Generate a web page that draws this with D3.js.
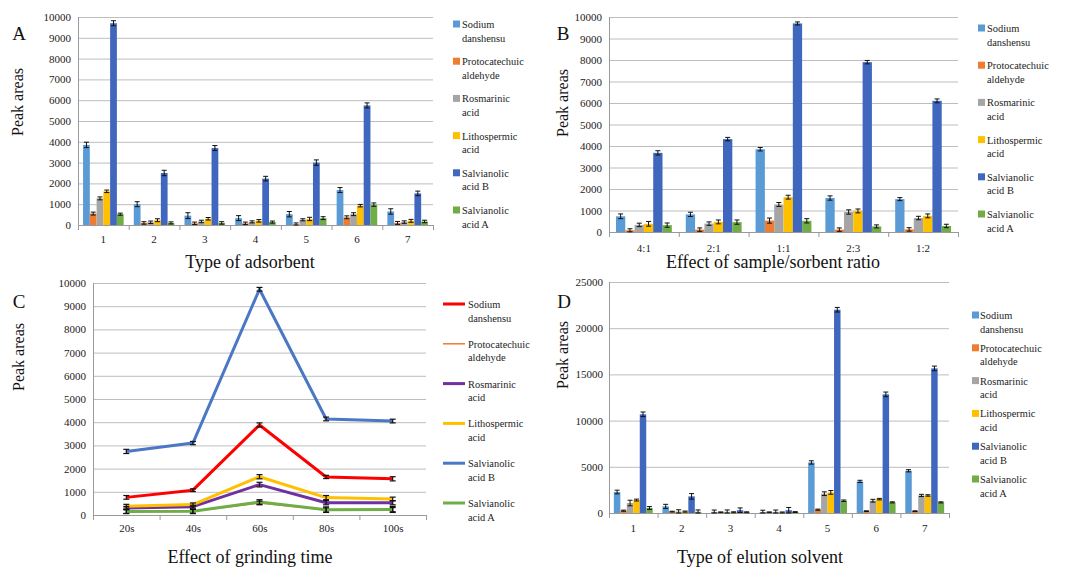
<!DOCTYPE html>
<html><head><meta charset="utf-8">
<script src="https://cdn.jsdelivr.net/npm/d3@7"></script>
<style>body{margin:0;background:#fff}svg{display:block}svg text{font-family:"Liberation Serif","Times New Roman",serif !important}</style>
</head><body>
<svg id="c" width="1067" height="567"></svg>
<script>
// ---------- shared ----------
const legendLines = [["Sodium","danshensu"],["Protocatechuic","aldehyde"],["Rosmarinic","acid"],["Lithospermic","acid"],["Salvianolic","acid B"],["Salvianolic","acid A"]];
const barColors = ["#5B9BD5","#ED7D31","#A5A5A5","#FFC000","#3F67BE","#70AD47"];
const lineColors = ["#FF0000","#ED7D31","#7030A0","#FFC000","#4A78C4","#70AD47"];

// ---------- A: type of adsorbent ----------
const adsCats = ["1","2","3","4","5","6","7"];
const adsSodium = [3850,1000,450,330,520,1680,650];
const adsProto  = [550,100,80,80,30,370,100];
const adsRosm   = [1280,130,170,150,250,520,140];
const adsLitho  = [1620,230,300,200,290,930,200];
const adsSalB   = [9700,2500,3700,2230,3000,5750,1520];
const adsSalA   = [520,100,100,140,330,980,170];
const adsErr = [[130,120,140,120,130,120,130],[70,60,60,60,70,70,70],[70,60,60,50,50,70,60],[60,70,60,60,80,60,70],[120,130,120,110,130,120,110],[50,50,60,50,70,80,60]];

// ---------- B: sample/sorbent ratio ----------
const ratCats = ["4:1","2:1","1:1","2:3","1:2"];
const ratSodium = [730,820,3850,1580,1530];
const ratProto  = [80,110,530,110,120];
const ratRosm   = [330,390,1280,930,650];
const ratLitho  = [380,470,1620,980,750];
const ratSalB   = [3680,4320,9700,7900,6100];
const ratSalA   = [320,460,520,260,280];
const ratErr = [[110,100,80,100,70],[70,80,120,80,80],[80,80,90,100,80],[110,90,90,90,90],[100,80,70,80,90],[100,100,100,70,80]];

// ---------- C: grinding time ----------
const grCats = ["20s","40s","60s","80s","100s"];
const grSodium = [760,1070,3880,1640,1560];
const grProto  = [150,160,520,220,230];
const grRosm   = [300,360,1310,530,530];
const grLitho  = [380,450,1650,750,690];
const grSalB   = [2740,3100,9730,4140,4050];
const grSalA   = [150,160,560,230,240];
const grErr = [[80,60,90,70,90],[80,80,80,90,90],[70,60,100,90,90],[80,70,90,90,80],[90,70,80,80,80],[90,100,100,120,130]];

// ---------- D: elution solvent ----------
const solCats = ["1","2","3","4","5","6","7"];
const solSodium = [2270,720,120,100,5470,3420,4570];
const solProto  = [250,150,80,80,360,200,200];
const solRosm   = [1080,150,130,120,2090,1330,1900];
const solLitho  = [1400,150,80,60,2230,1500,1900];
const solSalB   = [10680,1800,300,300,22000,12840,15650];
const solSalA   = [540,130,80,100,1330,1150,1150];
const solErr = [[200,220,200,200,180,120,120],[60,40,40,40,60,40,40],[300,200,200,200,200,150,120],[100,60,50,50,200,80,80],[250,300,250,300,250,250,250],[150,200,50,50,80,60,60]];

const FONT = "Liberation Serif, Times New Roman, serif";
const svg = d3.select("#c");

function frame(g, cfg, y) {
  const ticks = d3.range(0, cfg.max + 1, cfg.step);
  g.append("g").selectAll("line").data(ticks).join("line")
    .attr("x1", cfg.left).attr("x2", cfg.right)
    .attr("y1", d => y(d) + 0.5).attr("y2", d => y(d) + 0.5)
    .attr("stroke", "#bdbdbd").attr("stroke-width", 1);
  const ya = g.append("g").attr("transform", `translate(${cfg.left},0)`)
    .call(d3.axisLeft(y).tickValues(ticks).tickFormat(d3.format("d")).tickSize(0).tickPadding(cfg.tickPad));
  ya.select(".domain").remove();
  ya.attr("font-family", FONT).attr("font-size", 11);
  ya.selectAll("text").attr("fill", "#222");
  g.append("line").attr("x1", cfg.left + 0.5).attr("x2", cfg.left + 0.5)
    .attr("y1", cfg.top).attr("y2", cfg.bottom + 5).attr("stroke", "#9a9a9a");
  const n = cfg.cats.length, st = (cfg.right - cfg.left) / n;
  g.append("line").attr("x1", cfg.left).attr("x2", cfg.right)
    .attr("y1", cfg.bottom + 0.5).attr("y2", cfg.bottom + 0.5).attr("stroke", "#9a9a9a");
  g.append("g").selectAll("line").data(d3.range(n + 1)).join("line")
    .attr("x1", i => cfg.left + i * st + 0.5).attr("x2", i => cfg.left + i * st + 0.5)
    .attr("y1", cfg.bottom).attr("y2", cfg.bottom + 5).attr("stroke", "#9a9a9a");
  g.append("text").attr("x", cfg.letterX).attr("y", cfg.letterY).attr("text-anchor", "middle")
    .attr("font-size", 19).attr("fill", "#111").text(cfg.letter);
  g.append("text").attr("transform", `translate(${cfg.ytX},${cfg.ytY}) rotate(-90)`)
    .attr("text-anchor", "middle").attr("font-size", 16).attr("fill", "#111")
    .text("Peak areas");
  g.append("text").attr("x", cfg.xtX).attr("y", cfg.xtY).attr("text-anchor", "middle")
    .attr("font-size", 18).attr("fill", "#111").text(cfg.xTitle);
}

function catLabels(g, cfg, xs) {
  const xa = g.append("g").attr("transform", `translate(0,${cfg.catY})`)
    .call(d3.axisBottom(xs).tickSize(0).tickPadding(0));
  xa.select(".domain").remove();
  xa.attr("font-family", FONT).attr("font-size", 11);
  xa.selectAll("text").attr("fill", "#222").attr("dy", "0");
}

function legend(g, cfg, isLine, colors) {
  const lg = g.append("g").selectAll("g").data(legendLines).join("g")
    .attr("transform", (d, i) => `translate(${cfg.legX},${cfg.legY + i * cfg.legGap})`);
  if (isLine) {
    lg.append("line").attr("x1", 0).attr("x2", 22).attr("y1", 0).attr("y2", 0)
      .attr("stroke", (d, i) => colors[i]).attr("stroke-width", (d, i) => i === 1 ? 1.5 : 3);
  } else {
    lg.append("rect").attr("x", 0).attr("y", -3.5).attr("width", 7).attr("height", 7)
      .attr("fill", (d, i) => colors[i]);
  }
  lg.each(function (d) {
    const s = d3.select(this);
    d.forEach((t, k) => s.append("text").attr("x", cfg.legTx).attr("y", 4 + k * 13.5)
      .attr("font-size", 10.4).attr("fill", "#222").text(t));
  });
}

function barPanel(cfg, series, errs) {
  const g = svg.append("g");
  const y = d3.scaleLinear().domain([0, cfg.max]).range([cfg.bottom, cfg.top]);
  frame(g, cfg, y);
  const x0 = d3.scaleBand().domain(cfg.cats).range([cfg.left, cfg.right]).paddingInner(0.2).paddingOuter(0.1);
  const x1 = d3.scaleBand().domain(d3.range(series.length)).range([0, x0.bandwidth()]);
  const rows = [];
  series.forEach((vals, s) => vals.forEach((v, c) => rows.push({ s, c, v, e: errs[s][c] })));
  g.append("g").selectAll("rect").data(rows).join("rect")
    .attr("x", d => x0(cfg.cats[d.c]) + x1(d.s)).attr("width", x1.bandwidth())
    .attr("y", d => y(d.v)).attr("height", d => y(0) - y(d.v)).attr("fill", d => barColors[d.s]);
  const eb = g.append("g").attr("stroke", "#111").attr("stroke-width", 1);
  rows.forEach(d => {
    const cx = x0(cfg.cats[d.c]) + x1(d.s) + x1.bandwidth() / 2;
    const lo = y(Math.max(0, d.v - d.e)), hi = y(d.v + d.e);
    eb.append("line").attr("x1", cx).attr("x2", cx).attr("y1", lo).attr("y2", hi);
    eb.append("line").attr("x1", cx - 2.5).attr("x2", cx + 2.5).attr("y1", lo).attr("y2", lo);
    eb.append("line").attr("x1", cx - 2.5).attr("x2", cx + 2.5).attr("y1", hi).attr("y2", hi);
  });
  catLabels(g, cfg, x0);
  legend(g, cfg, false, barColors);
}

function linePanel(cfg, series, errs) {
  const g = svg.append("g");
  const y = d3.scaleLinear().domain([0, cfg.max]).range([cfg.bottom, cfg.top]);
  frame(g, cfg, y);
  const x = d3.scalePoint().domain(cfg.cats).range([cfg.left, cfg.right]).padding(0.5);
  const line = d3.line().x((d, i) => x(cfg.cats[i])).y(d => y(d));
  const order = [1, 5, 2, 3, 0, 4];
  order.forEach(s => {
    g.append("path").datum(series[s]).attr("d", line).attr("fill", "none")
      .attr("stroke", lineColors[s]).attr("stroke-width", s === 1 ? 1.5 : 3).attr("stroke-linejoin", "round");
  });
  const eb = g.append("g").attr("stroke", "#111").attr("stroke-width", 1.2);
  series.forEach((vals, s) => vals.forEach((v, c) => {
    const cx = x(cfg.cats[c]);
    const lo = y(Math.max(0, v - errs[s][c])), hi = y(v + errs[s][c]);
    eb.append("line").attr("x1", cx).attr("x2", cx).attr("y1", lo).attr("y2", hi);
    eb.append("line").attr("x1", cx - 3).attr("x2", cx + 3).attr("y1", lo).attr("y2", lo);
    eb.append("line").attr("x1", cx - 3).attr("x2", cx + 3).attr("y1", hi).attr("y2", hi);
  }));
  catLabels(g, cfg, x);
  legend(g, cfg, true, lineColors);
}

barPanel({
  cats: adsCats, max: 10000, step: 1000, left: 78, right: 433, top: 17, bottom: 225, tickPad: 7,
  catY: 243, letter: "A", letterX: 19, letterY: 40, ytX: 23, ytY: 102, xTitle: "Type of adsorbent",
  xtX: 250, xtY: 268, legX: 453, legY: 24, legGap: 37.2, legTx: 9
}, [adsSodium, adsProto, adsRosm, adsLitho, adsSalB, adsSalA], adsErr);

barPanel({
  cats: ratCats, max: 10000, step: 1000, left: 609, right: 958, top: 17, bottom: 232, tickPad: 7,
  catY: 252, letter: "B", letterX: 563, letterY: 40, ytX: 568, ytY: 103, xTitle: "Effect of sample/sorbent ratio",
  xtX: 773, xtY: 268, legX: 978, legY: 28, legGap: 37.2, legTx: 9
}, [ratSodium, ratProto, ratRosm, ratLitho, ratSalB, ratSalA], ratErr);

linePanel({
  cats: grCats, max: 10000, step: 1000, left: 93, right: 426, top: 283, bottom: 515, tickPad: 7,
  catY: 532, letter: "C", letterX: 19, letterY: 308, ytX: 24, ytY: 357, xTitle: "Effect of grinding time",
  xtX: 250, xtY: 563, legX: 443, legY: 304, legGap: 39.8, legTx: 25
}, [grSodium, grProto, grRosm, grLitho, grSalB, grSalA], grErr);

barPanel({
  cats: solCats, max: 25000, step: 5000, left: 609, right: 949, top: 282, bottom: 513, tickPad: 6,
  catY: 532, letter: "D", letterX: 564, letterY: 308, ytX: 568, ytY: 355, xTitle: "Type of elution solvent",
  xtX: 760, xtY: 563, legX: 972, legY: 315, legGap: 32.8, legTx: 8
}, [solSodium, solProto, solRosm, solLitho, solSalB, solSalA], solErr);
</script>
</body></html>
